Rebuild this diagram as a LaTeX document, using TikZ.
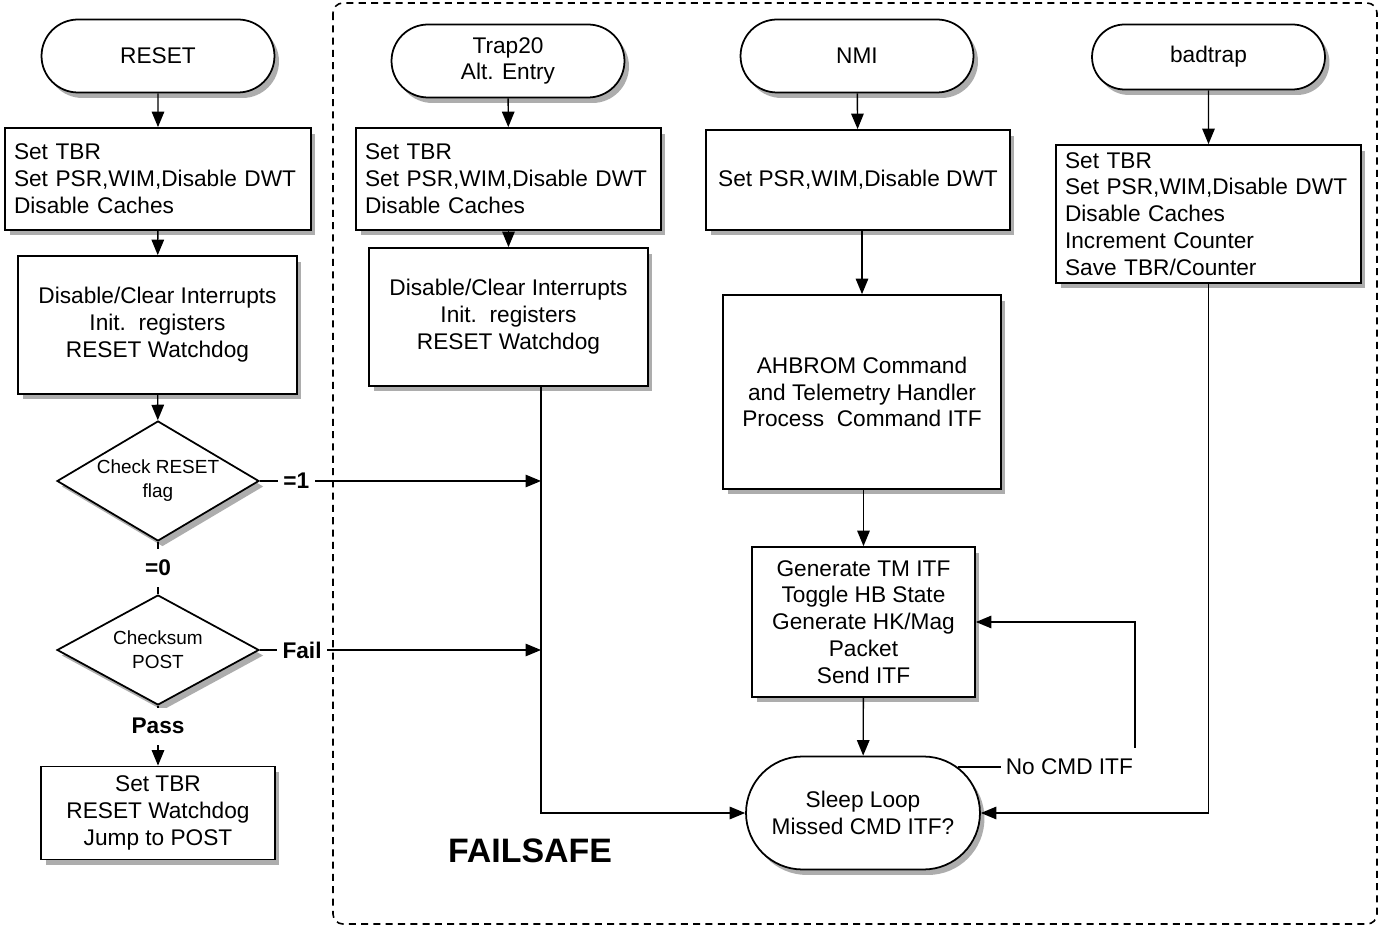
\documentclass[tikz,border=0pt]{standalone}
\usepackage{fontspec}
\setmainfont{Liberation Sans}
\usetikzlibrary{shapes.misc,shapes.geometric,shadows,arrows.meta}

\newcommand{\mainsize}{\fontsize{12.9}{15.3}\selectfont}
\newcommand{\smallsize}{\fontsize{10.8}{13.6}\selectfont}

\tikzset{
  boxshadow/.style={drop shadow={shadow xshift=0.09cm,shadow yshift=-0.11cm,opacity=0.32,fill=black}},
  term/.style={shape=rounded rectangle,draw=black,fill=white,line width=1pt,boxshadow,
    align=center,inner sep=0pt,font=\mainsize,minimum width=4.66cm,minimum height=1.46cm},
  stepbox/.style={shape=rectangle,draw=black,fill=white,line width=1pt,boxshadow,
    align=center,inner sep=0pt,font=\mainsize},
  listbox/.style={stepbox,align=left,inner xsep=0.18cm},
  decide/.style={shape=diamond,draw=black,fill=white,line width=1pt,boxshadow,aspect=1.7,
    inner sep=0pt,align=center,font=\smallsize,minimum width=4.04cm},
  tag/.style={fill=white,inner xsep=3pt,inner ysep=6pt,font=\mainsize\bfseries},
  note/.style={fill=white,inner xsep=3pt,inner ysep=6pt,font=\mainsize},
}

\begin{document}
\begin{tikzpicture}[x=0.02cm,y=-0.02cm,>={Triangle[length=0.31cm,width=0.25cm]},line width=0.8pt]
    \useasboundingbox (0,0) rectangle (1379,928);
    \draw[line width=0.9pt,dash pattern=on 4pt off 3pt,rounded corners=0.2cm] (333,3) rectangle (1377,924);

    % RESET entry
    \node[term] (reset) at (158,56) {RESET};
    \node[listbox,text width=5.76cm,minimum height=2.04cm] (tbr1) at (158,179) {Set TBR\\Set PSR,WIM,Disable DWT\\Disable Caches};
    \node[stepbox,minimum width=5.58cm,minimum height=2.76cm] (irq1) at (157.5,325) {Disable/Clear Interrupts\\Init.\ \ registers\\RESET Watchdog};
    \node[decide,minimum height=2.4cm] (flag) at (158,481) {Check RESET\\flag};
    \node[decide,minimum height=2.2cm] (chk) at (158,650) {Checksum\\POST};
    \node[stepbox,minimum width=4.68cm,minimum height=1.86cm] (post) at (158,813) {Set TBR\\RESET Watchdog\\Jump to POST};

    % failsafe entries
    \coordinate (bus) at (541,400);
    \node[term] (trap) at (508,61) {Trap20\\Alt. Entry};
    \node[listbox,text width=5.74cm,minimum height=2.04cm] (tbr2) at (508.5,179) {Set TBR\\Set PSR,WIM,Disable DWT\\Disable Caches};
    \node[stepbox,minimum width=5.58cm,minimum height=2.76cm] (irq2) at (508.5,317) {Disable/Clear Interrupts\\Init.\ \ registers\\RESET Watchdog};
    \node[term] (nmi) at (857,56) {NMI};
    \node[stepbox,minimum width=6.08cm,minimum height=2cm] (psr) at (858,180) {Set PSR,WIM,Disable DWT};
    \node[stepbox,minimum width=5.56cm,minimum height=3.88cm] (ahb) at (862,392) {AHBROM Command\\and Telemetry Handler\\Process\ \ Command ITF};
    \node[stepbox,minimum width=4.46cm,minimum height=3cm] (tm) at (863.5,622) {Generate TM ITF\\Toggle HB State\\Generate HK/Mag\\Packet\\Send ITF};
    \node[term,minimum width=4.68cm,minimum height=2.26cm] (sleep) at (863,813) {Sleep Loop\\Missed CMD ITF?};
    \node[term,minimum height=1.3cm] (bad) at (1208.5,57) {badtrap};
    \node[listbox,text width=5.74cm,minimum height=2.76cm] (tbr3) at (1208.5,214) {Set TBR\\Set PSR,WIM,Disable DWT\\Disable Caches\\Increment Counter\\Save TBR/Counter};
    \node[font=\fontsize{19.3}{22}\selectfont\bfseries] (fs) at (530,851) {FAILSAFE};
    \coordinate (turn) at (1135,766);

    \path [->](reset) edge (tbr1);
    \path [->](tbr1) edge (irq1);
    \path [->](irq1) edge (flag);
    \path [-](flag) edge node[tag] {=0} (chk);
    \path [->](chk) edge node[tag,pos=0.34] {Pass} (post);
    \draw [->](flag.east) -- node[tag,pos=0.13] {=1} (flag.east -| bus);
    \draw [->](chk.east) -- node[tag,pos=0.15] {Fail} (chk.east -| bus);

    \path [->](trap) edge (tbr2);
    \path [->](tbr2) edge (irq2);
    \draw [->](irq2.south -| bus) |- (sleep.west);
    \path [->](nmi) edge (psr);
    \draw [->](ahb.north |- psr.south) -- (ahb.north);
    \draw [->](tm.north |- ahb.south) -- (tm.north);
    \path [->](tm) edge (sleep);
    \path [->](bad) edge (tbr3);
    \draw [->](tbr3.south) |- (sleep.east);
    \draw [->](sleep.26) -- node[note,pos=0.63] {No CMD ITF} (sleep.26 -| turn) |- (tm.east);
\end{tikzpicture}
\end{document}
